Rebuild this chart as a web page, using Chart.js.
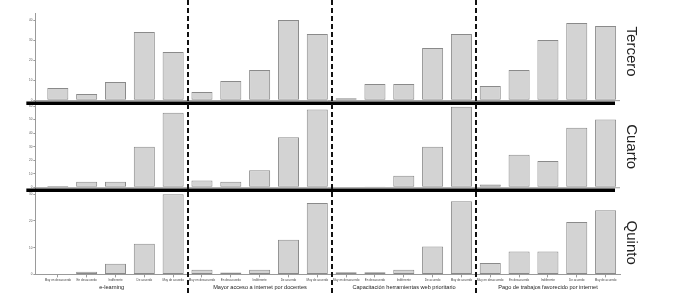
<!DOCTYPE html>
<html>
<head>
<meta charset="utf-8">
<script src="https://cdn.jsdelivr.net/npm/chart.js@4.4.0/dist/chart.umd.min.js"></script>
<style>
  html, body { margin: 0; padding: 0; background: #fff; }
  #wrap { width: 679px; height: 295px; }
</style>
</head>
<body>
<div id="wrap"><canvas id="grafico" width="679" height="295"></canvas></div>
<script>
// Categorías de respuesta (se repiten en cada tema)
const niveles = ['Muy en desacuerdo', 'En desacuerdo', 'Indiferente', 'De acuerdo', 'Muy de acuerdo'];
const temas = ['e-learning', 'Mayor acceso a internet por docentes', 'Capacitación herramientas web prioritario', 'Pago de trabajos favorecido por internet'];
const cursos = ['Tercero', 'Cuarto', 'Quinto'];

// Valores por curso: 4 temas x 5 niveles
const tercero = [6, 3, 9, 34, 24,   4, 9.5, 15, 40, 33,   1, 8, 8, 26, 33,   7, 15, 30, 38.5, 37];
const cuarto  = [1, 4, 4, 30, 55,   5, 4, 12.5, 37, 57.5,   0, 0.5, 8.5, 30, 59.5,   2, 24, 19.5, 44, 50];
const quinto  = [0, 1, 4, 11.5, 30,   1.7, 0.7, 1.7, 13, 26.7,   0.8, 0.8, 1.7, 10.4, 27.4,   4.3, 8.6, 8.6, 19.6, 24];

// Techo de cada eje y
const topes = [43.5, 64.4, 32.6];

const series = [tercero, cuarto, quinto];
const etiquetas = temas.flatMap(() => niveles);
const indices = etiquetas.map((_, i) => i);

const GRIS = '#9a9a9a';

// separadores, líneas gruesas y títulos
const decoracion = {
  id: 'decoracion',
  afterDraw(chart) {
    const { ctx, chartArea, scales } = chart;
    const x = scales.x;
    ctx.save();

    // línea base fina + línea negra gruesa bajo filas 1 y 2
    const cortes = [0];
    [0, 1].forEach(r => {
      const y0 = scales['y' + r].getPixelForValue(0);
      ctx.strokeStyle = GRIS;
      ctx.lineWidth = 1;
      ctx.beginPath();
      ctx.moveTo(chartArea.left, y0 + 0.5);
      ctx.lineTo(chartArea.right, y0 + 0.5);
      ctx.stroke();
      ctx.strokeStyle = '#000';
      ctx.lineWidth = 3.5;
      ctx.beginPath();
      ctx.moveTo(chartArea.left - 9, y0 + 3);
      ctx.lineTo(chartArea.right - 5, y0 + 3);
      ctx.stroke();
      cortes.push(y0 + 3);
    });
    cortes.push(chart.height);

    // separadores punteados entre temas
    const bordes = [chartArea.left];
    for (let g = 1; g < temas.length; g++) {
      const sx = Math.round(x.getPixelForValue(g * niveles.length - 0.5));
      bordes.push(sx);
      ctx.strokeStyle = '#111';
      ctx.lineWidth = 2;
      ctx.setLineDash([5, 3]);
      ctx.beginPath();
      ctx.moveTo(sx, 0);
      ctx.lineTo(sx, chart.height);
      ctx.stroke();
    }
    ctx.setLineDash([]);
    bordes.push(chartArea.right);

    // títulos de tema
    ctx.fillStyle = '#222';
    ctx.font = '5.6px "Liberation Sans", Arial, sans-serif';
    ctx.textAlign = 'center';
    ctx.textBaseline = 'middle';
    temas.forEach((t, g) => {
      ctx.fillText(t, (bordes[g] + bordes[g + 1]) / 2, chart.height - 8);
    });

    // nombre del curso, girado
    ctx.font = '15px "Liberation Sans", Arial, sans-serif';
    cursos.forEach((c, r) => {
      ctx.save();
      ctx.translate(chartArea.right + 11, (cortes[r] + cortes[r + 1]) / 2);
      ctx.rotate(Math.PI / 2);
      ctx.fillText(c, 0, 0);
      ctx.restore();
    });

    ctx.restore();
  }
};

const ejeY = (r) => ({
  type: 'linear',
  position: 'left',
  stack: 'filas',
  stackWeight: 1,
  weight: 3 - r,
  min: 0,
  max: topes[r],
  grid: { drawOnChartArea: false, tickLength: 2, color: GRIS },
  border: { color: GRIS },
  ticks: { stepSize: 10, includeBounds: false, padding: 1, color: '#555', font: { size: 3 } }
});

new Chart(document.getElementById('grafico'), {
  type: 'bar',
  data: {
    labels: indices,
    datasets: series.map((d, r) => ({
      label: cursos[r],
      data: d,
      yAxisID: 'y' + r,
      grouped: false,
      backgroundColor: '#d3d3d3',
      borderColor: '#8a8a8a',
      borderWidth: 1,
      borderSkipped: false,
      barPercentage: 0.73,
      categoryPercentage: 1
    }))
  },
  options: {
    responsive: false,
    animation: false,
    devicePixelRatio: 1,
    layout: { padding: { left: 28, right: 59, top: 13, bottom: 12 } },
    plugins: { legend: { display: false }, tooltip: { enabled: false } },
    scales: {
      x: {
        type: 'linear',
        offset: false,
        min: -0.78,
        max: 19.5,
        afterFit: s => { s.paddingLeft = 0; s.paddingRight = 0; },
        grid: { offset: false, drawOnChartArea: false, tickLength: 3, color: GRIS },
        border: { color: GRIS },
        ticks: {
          stepSize: 1,
          includeBounds: false,
          autoSkip: false,
          maxRotation: 0,
          padding: 1,
          color: '#444',
          font: { size: 3 },
          callback: v => (Number.isInteger(v) && etiquetas[v]) ? etiquetas[v] : ''
        }
      },
      y0: ejeY(0),
      y1: ejeY(1),
      y2: ejeY(2)
    }
  },
  plugins: [decoracion]
});
</script>
</body>
</html>
